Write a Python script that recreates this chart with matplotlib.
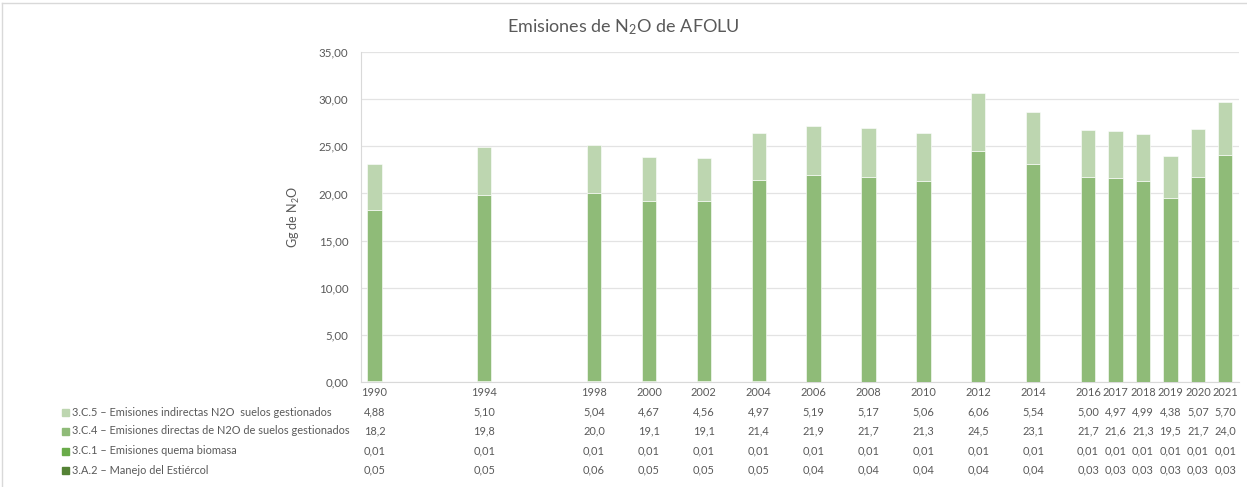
import matplotlib
import numpy as np

matplotlib.use('Agg')
import matplotlib.pyplot as plt
from matplotlib.patches import Rectangle
from matplotlib.transforms import blended_transform_factory

plt.rcParams['font.family'] = ['Lato', 'DejaVu Sans']
plt.rcParams['mathtext.fontset'] = 'custom'
plt.rcParams['mathtext.rm'] = 'Lato'
plt.rcParams['mathtext.it'] = 'Lato'

years = [1990, 1994, 1998, 2000, 2002, 2004, 2006, 2008, 2010, 2012, 2014,
         2016, 2017, 2018, 2019, 2020, 2021]

# series, bottom of the stack first
manejo_estiercol = [0.05, 0.05, 0.06, 0.05, 0.05, 0.05, 0.04, 0.04, 0.04, 0.04, 0.04,
                    0.03, 0.03, 0.03, 0.03, 0.03, 0.03]
quema_biomasa = [0.01] * 17
directas_suelos = [18.2, 19.8, 20.0, 19.1, 19.1, 21.4, 21.9, 21.7, 21.3, 24.5, 23.1,
                   21.7, 21.6, 21.3, 19.5, 21.7, 24.0]
indirectas_suelos = [4.88, 5.10, 5.04, 4.67, 4.56, 4.97, 5.19, 5.17, 5.06, 6.06, 5.54,
                     5.00, 4.97, 4.99, 4.38, 5.07, 5.70]

series_names = [
    '3.C.5 – Emisiones indirectas N2O  suelos gestionados',
    '3.C.4 – Emisiones directas de N2O de suelos gestionados',
    '3.C.1 – Emisiones quema biomasa',
    '3.A.2 – Manejo del Estiércol',
]
series_colors = ['#bdd6b0', '#8fbb78', '#6aab4a', '#548235']

text_color = '#595959'
table_size = 7.9


def fmt_value(v, decimals):
    return f'{v:.{decimals}f}'.replace('.', ',')


fig = plt.figure(figsize=(12.47, 4.87), dpi=100)
ax = fig.add_axes([0.2893, 0.2156, 0.7043, 0.6776])

x = np.array(years)
bottom = np.zeros(len(years))
stack = [manejo_estiercol, quema_biomasa, directas_suelos, indirectas_suelos]
stack_colors = series_colors[::-1]
for values, color in zip(stack, stack_colors):
    ax.bar(x, values, width=0.52, bottom=bottom, color=color, edgecolor='white',
           linewidth=0.4, zorder=3)
    bottom += np.array(values)

ax.set_xlim(1989.5, 2021.5)
ax.set_ylim(0, 35)
ax.set_yticks(np.arange(0, 36, 5))
ax.set_yticklabels([fmt_value(v, 2) for v in np.arange(0, 36, 5)], color=text_color,
                   fontsize=8.3)
ax.set_xticks([])
ax.tick_params(axis='y', length=0, pad=9)
ax.grid(axis='y', color='#e3e3e3', linewidth=0.9, zorder=0)
for side in ['top', 'right']:
    ax.spines[side].set_visible(False)
ax.spines['left'].set_color('#d9d9d9')
ax.spines['bottom'].set_color('#d9d9d9')

ax.set_ylabel('Gg de N$_2$O', color=text_color, fontsize=9, labelpad=12)
fig.text(0.4995, 0.944, 'Emisiones de N$_2$O de AFOLU', ha='center', va='center',
         color=text_color, fontsize=13)

# data table under the bars
trans = blended_transform_factory(ax.transData, fig.transFigure)
row_y = [1 - 412 / 487, 1 - 431 / 487, 1 - 451 / 487, 1 - 470 / 487]
year_y = 1 - 393 / 487
for yr in years:
    ax.text(yr, year_y, str(yr), transform=trans, ha='center', va='center',
            color=text_color, fontsize=table_size)

table_rows = [
    [fmt_value(v, 2) for v in indirectas_suelos],
    [fmt_value(v, 1) for v in directas_suelos],
    [fmt_value(v, 2) for v in quema_biomasa],
    [fmt_value(v, 2) for v in manejo_estiercol],
]
for y, labels, name, color in zip(row_y, table_rows, series_names, series_colors):
    for yr, lab in zip(years, labels):
        ax.text(yr, y, lab, transform=trans, ha='center', va='center',
                color=text_color, fontsize=table_size)
    fig.patches.append(Rectangle((62 / 1247, y - 3.5 / 487), 7 / 1247, 7 / 487,
                                 transform=fig.transFigure, color=color))
    fig.text(72 / 1247, y, name, ha='left', va='center', color=text_color,
             fontsize=table_size)

# chart border
fig.add_artist(plt.Line2D([2 / 1247, 2 / 1247], [0, 1 - 3 / 487], transform=fig.transFigure,
                          color='#d9d9d9', linewidth=1))
fig.add_artist(plt.Line2D([2 / 1247, 1], [1 - 3 / 487, 1 - 3 / 487], transform=fig.transFigure,
                          color='#d9d9d9', linewidth=1))

fig.savefig('out.png', dpi=100)
